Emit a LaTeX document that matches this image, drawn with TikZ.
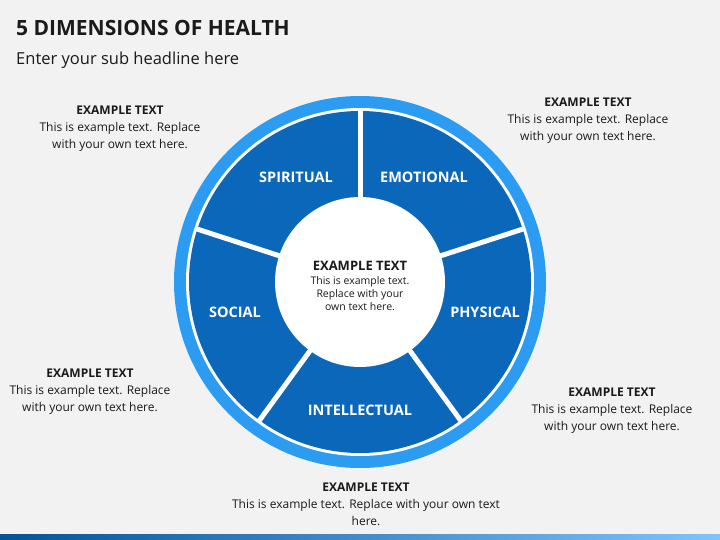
\documentclass[tikz,border=0pt]{standalone}
\usepackage{fontspec}
\setmainfont{Open Sans}
\definecolor{bg}{HTML}{F2F2F2}
\definecolor{dkb}{HTML}{0A67BA}
\definecolor{ltb}{HTML}{2C9CF2}
\definecolor{txt}{HTML}{1A1A1A}
\begin{document}
\begin{tikzpicture}[x=1pt,y=-1pt,
  lab/.style={text=white,font=\fontsize{14.5}{16}\selectfont\bfseries,inner sep=0},
  para/.style={text=txt,align=center,font=\fontsize{12}{17}\selectfont,inner sep=0},
  gap/.style={draw=white,line width=5pt}]
\fill[bg] (0,0) rectangle (720,540);
\useasboundingbox (0,0) rectangle (720,540);
\shade[left color=dkb!80!black,right color=ltb!60] (0,534) rectangle (720,540);
\node[anchor=west,text=txt,font=\fontsize{21}{24}\selectfont\bfseries,inner sep=0] (title) at (16,28) {5 DIMENSIONS OF HEALTH};
\node[anchor=west,text=txt,font=\fontsize{16.5}{19}\selectfont,inner sep=0] (sub) at (16,60) {Enter your sub headline here};
% ring
\coordinate (c) at (360,282);
\fill[ltb] (c) circle (186);
\fill[white] (c) circle (174);
\fill[dkb] (c) circle (171);
\foreach \a in {-90,-18,54,126,-162}
  \draw[gap] (c) -- ++(\a:173);
\fill[white] (c) circle (85);
\node[lab] (sp) at (296,177) {SPIRITUAL};
\node[lab] (em) at (424,177) {EMOTIONAL};
\node[lab] (ph) at (485,312) {PHYSICAL};
\node[lab] (in) at (360,410) {INTELLECTUAL};
\node[lab] (so) at (235,312) {SOCIAL};
\node[para,font=\fontsize{10.5}{15}\selectfont] (ctr) at (360,286) {{\fontsize{13}{14}\selectfont\bfseries EXAMPLE TEXT}\\[-1pt]This is example text.\\[-2pt]Replace with your\\[-2pt]own text here.};
\node[para] (tl) at (120,129) {\textbf{EXAMPLE TEXT}\\This is example text. Replace\\with your own text here.};
\node[para] (tr) at (588,121) {\textbf{EXAMPLE TEXT}\\This is example text. Replace\\with your own text here.};
\node[para] (ml) at (90,392) {\textbf{EXAMPLE TEXT}\\This is example text. Replace\\with your own text here.};
\node[para] (mr) at (612,411) {\textbf{EXAMPLE TEXT}\\This is example text. Replace\\with your own text here.};
\node[para] (bt) at (366,504) {\textbf{EXAMPLE TEXT}\\This is example text. Replace with your own text\\here.};
\end{tikzpicture}
\end{document}
